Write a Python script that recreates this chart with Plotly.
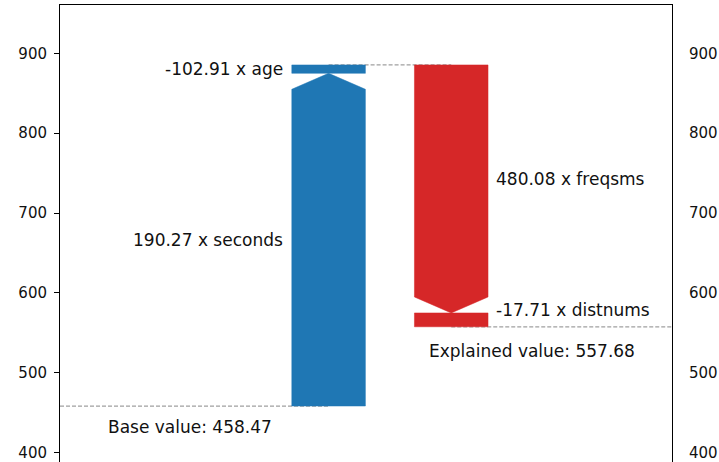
import plotly.graph_objects as go

# ---- data ----
features = ["seconds", "age", "freqsms", "distnums"]
coefficients = [190.27, -102.91, 480.08, -17.71]
contributions = [416.53, 10.47, -310.47, -17.32]
base_value = 458.47
explained_value = 557.68
y_ticks = [400, 500, 600, 700, 800, 900]

# ---- styling / layout constants ----
BLUE = "#1f77b4"
RED = "#d62728"
FONT = "DejaVu Sans"
BAR_W = 0.6
HEAD = 20.0
X_RANGE = [-2.19, 2.8]
Y_RANGE = [388.4, 960.5]

fig = go.Figure()

# cumulative positions
starts, ends = [], []
cur = base_value
for c in contributions:
    starts.append(cur)
    cur = cur + c
    ends.append(cur)
top_value = max(ends)
cols = [0 if c > 0 else 1 for c in contributions]

dash_style = dict(color="#a0a0a0", width=1.2, dash="4px,2px")
# dashed guide lines
fig.add_trace(go.Scatter(x=[X_RANGE[0], 0], y=[base_value, base_value], mode="lines",
                         line=dash_style, hoverinfo="skip", showlegend=False))
fig.add_trace(go.Scatter(x=[0, 1], y=[top_value, top_value], mode="lines",
                         line=dash_style, hoverinfo="skip", showlegend=False))
fig.add_trace(go.Scatter(x=[1, X_RANGE[1]], y=[explained_value, explained_value], mode="lines",
                         line=dash_style, hoverinfo="skip", showlegend=False))

annotations = []
for feat, coef, c, s, e, col in zip(features, coefficients, contributions, starts, ends, cols):
    color = BLUE if c > 0 else RED
    xl, xr = col - BAR_W / 2, col + BAR_W / 2
    sign = 1 if c > 0 else -1
    if abs(c) > 2 * HEAD:
        neck = e - sign * HEAD
        xs = [xl, xl, col, xr, xr, xl]
        ys = [s, neck, e, neck, s, s]
    else:
        xs = [xl, xl, xr, xr, xl]
        ys = [s, e, e, s, s]
    fig.add_trace(go.Scatter(x=xs, y=ys, mode="lines", fill="toself", fillcolor=color,
                             line=dict(color=color, width=0.5), hoverinfo="skip",
                             showlegend=False))
    mid = (s + e) / 2
    txt = f"{coef:.2f} x {feat}"
    if col == 0:
        annotations.append(dict(x=xl, y=mid, xref="x", yref="y", text=txt, showarrow=False,
                                xanchor="right", yanchor="middle", xshift=-7,
                                font=dict(family=FONT, size=17, color="#111")))
    else:
        annotations.append(dict(x=xr, y=mid, xref="x", yref="y", text=txt, showarrow=False,
                                xanchor="left", yanchor="middle", xshift=6, yshift=10,
                                font=dict(family=FONT, size=17, color="#111")))

annotations.append(dict(x=-1.13, y=base_value, xref="x", yref="y",
                        text=f"Base value: {base_value:.2f}", showarrow=False,
                        xanchor="center", yanchor="middle", yshift=-21,
                        font=dict(family=FONT, size=17, color="#111")))
annotations.append(dict(x=1.66, y=explained_value, xref="x", yref="y",
                        text=f"Explained value: {explained_value:.2f}", showarrow=False,
                        xanchor="center", yanchor="middle", yshift=-24,
                        font=dict(family=FONT, size=17, color="#111")))

# invisible trace to activate the right axis
fig.add_trace(go.Scatter(x=[None], y=[None], yaxis="y2", showlegend=False, hoverinfo="skip"))

fig.update_layout(
    width=719, height=462,
    margin=dict(l=60, r=47, t=5, b=0),
    paper_bgcolor="white", plot_bgcolor="white",
    font=dict(family=FONT, size=15, color="#111"),
    annotations=annotations,
    hovermode=False,
    xaxis=dict(range=X_RANGE, side="top", showline=True, linecolor="black", linewidth=1,
               showticklabels=False, ticks="", showgrid=False, zeroline=False,
               fixedrange=True),
    yaxis=dict(range=Y_RANGE, tickvals=y_ticks, showline=True, linecolor="black",
               linewidth=1, ticks="outside", ticklen=5, tickcolor="black",
               showgrid=False, zeroline=False, ticklabelstandoff=4,
               tickfont=dict(family=FONT, size=15, color="#111")),
    yaxis2=dict(range=Y_RANGE, tickvals=y_ticks, overlaying="y", side="right",
                showline=True, linecolor="black", linewidth=1, ticks="outside",
                ticklen=5, tickcolor="rgba(0,0,0,0)", showgrid=False, zeroline=False,
                ticklabelstandoff=8,
                tickfont=dict(family=FONT, size=15, color="#111")),
)

fig.write_html(
    "out.html",
    config={"displayModeBar": False, "staticPlot": True},
    post_script="document.body.style.margin='0px';document.body.style.overflow='hidden';",
)
